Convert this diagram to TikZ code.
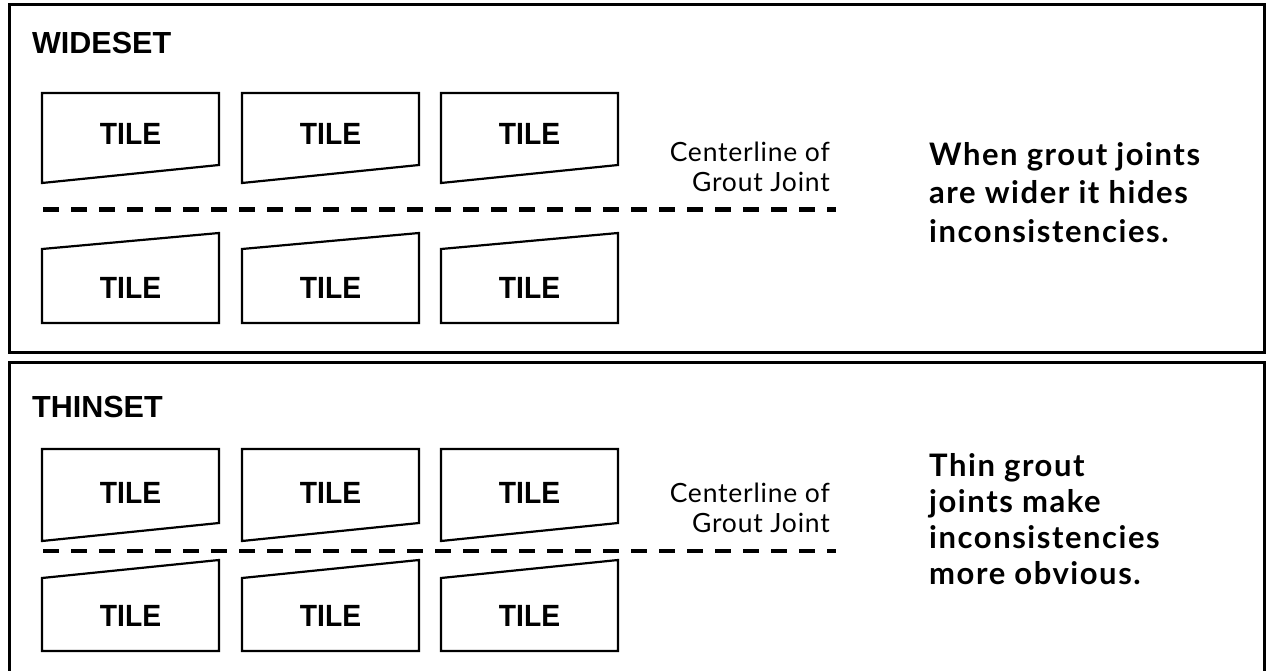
\documentclass[tikz,border=0pt]{standalone}
\usepackage{fontspec}
\setmainfont{Liberation Sans}
\newfontfamily\tilefont[FakeStretch=0.92]{Liberation Sans}
\newfontfamily\notefont[LetterSpace=5]{Lato}
\newfontfamily\clinefont[LetterSpace=3]{Lato}
\begin{document}
\begin{tikzpicture}[x=1pt,y=-1pt,
  panel/.style={line width=3pt, draw=black},
  tileshape/.style={line width=2.2pt, draw=black, line join=miter},
  tilelabel/.style={font=\tilefont\fontsize{30.7}{30.7}\selectfont\bfseries, anchor=base, inner sep=0pt},
  paneltitle/.style={font=\fontsize{30.5}{30.5}\selectfont\bfseries, anchor=base west, inner sep=0pt},
  joint/.style={line width=4.5pt, dash pattern=on 16pt off 12pt},
  cline/.style={font=\clinefont\fontsize{26.5}{26.5}\selectfont, anchor=base east, inner sep=0pt},
  note/.style={font=\notefont\bfseries\fontsize{31}{31}\selectfont, anchor=base west, inner sep=0pt}]
\useasboundingbox (0,0) rectangle (1271,671);

% panels
\draw[panel] (9.5,5) rectangle (1264,352);
\draw[panel] (9.5,690) -- (9.5,362) -- (1264,362) -- (1264,690);

\node[paneltitle] (wide) at (32,54) {WIDESET};
\node[paneltitle] (thin) at (32,417) {THINSET};

% WIDESET tiles
\foreach \x/\n in {42/a,242/b,441/c} {
  \draw[tileshape] (\x,93) -- (\x+177,93) -- (\x+177,165) -- (\x,183) -- cycle;
  \node[tilelabel] (wt\n) at (\x+88.5,145) {TILE};
  \draw[tileshape] (\x,249) -- (\x+177,233) -- (\x+177,323) -- (\x,323) -- cycle;
  \node[tilelabel] (wb\n) at (\x+88.5,298) {TILE};
}
% THINSET tiles
\foreach \x/\n in {42/a,242/b,441/c} {
  \draw[tileshape] (\x,449) -- (\x+177,449) -- (\x+177,523) -- (\x,541) -- cycle;
  \node[tilelabel] (tt\n) at (\x+88.5,503) {TILE};
  \draw[tileshape] (\x,578) -- (\x+177,560) -- (\x+177,651) -- (\x,651) -- cycle;
  \node[tilelabel] (tb\n) at (\x+88.5,626) {TILE};
}

% grout joint centerlines
\coordinate (wjs) at (43,209.5);
\coordinate (wje) at (836,209.5);
\draw[joint] (wjs) -- (wje);
\coordinate (tjs) at (43,551);
\coordinate (tje) at (836,551);
\draw[joint] (tjs) -- (tje);

\node[cline] (wc1) at (830,162) {Centerline of};
\node[cline] (wc2) at (830,192) {Grout Joint};
\node[cline] (tc1) at (830,502) {Centerline of};
\node[cline] (tc2) at (830,532) {Grout Joint};

% notes
\node[note] (wn1) at (929,166) {When grout joints};
\node[note] (wn2) at (929,204) {are wider it hides};
\node[note] (wn3) at (929,242) {inconsistencies.};

\node[note] (tn1) at (929,476) {Thin grout};
\node[note] (tn2) at (929,512) {joints make};
\node[note] (tn3) at (929,548) {inconsistencies};
\node[note] (tn4) at (929,584) {more obvious.};
\end{tikzpicture}
\end{document}
